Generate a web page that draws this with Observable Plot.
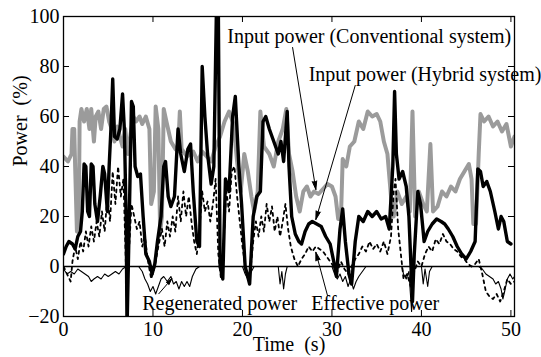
<!DOCTYPE html>
<html><head><meta charset="utf-8">
<script src="https://cdn.jsdelivr.net/npm/d3@7"></script>
<script src="https://cdn.jsdelivr.net/npm/@observablehq/plot@0.6"></script>
<style>html,body{margin:0;padding:0;background:#fff}</style>
</head><body><div id="chart"></div>
<script>
// Input power, conventional system (gray thick)
const convTime  = [0,0.5,0.9,1.0,1.2,1.3,1.5,1.7,1.8,2.0,2.3,2.6,2.9,3.1,3.4,3.6,3.9,4.2,4.5,4.8,5.1,5.4,5.7,6.0,6.3,6.6,6.9,7.2,7.5,7.8,8.1,8.5,8.8,9.2,9.6,9.8,10.1,10.3,10.6,10.8,11.0,11.2,11.5,12.0,12.5,12.8,13.0,13.2,13.8,14.5,15.0,15.5,16.0,16.5,17.0,17.5,18.0,18.5,19.0,19.4,19.8,20.2,20.6,21.0,21.3,21.7,22.0,22.4,23.0,23.5,24.0,24.5,24.9,25.2,25.6,26.0,26.4,26.8,27.2,27.6,28.0,28.5,29.0,29.5,30.0,30.4,30.7,31.0,31.2,31.6,32.0,32.5,33.0,33.5,34.0,34.5,35.0,35.4,35.8,36.2,36.6,36.9,37.3,37.8,38.3,38.7,39.0,39.3,39.7,40.2,40.6,41.0,41.3,41.8,42.3,42.8,43.3,43.8,44.3,44.8,45.3,45.6,45.8,46.1,46.4,46.6,47.0,47.5,48.0,48.5,49.0,49.5,50.0,50.4];
const convPower = [44,42,45,55,55,40,14,14,58,63,58,63,55,63,50,60,62,55,63,64,58,55,50,56,52,48,55,45,53,60,58,60,57,60,55,25,30,64,55,14,20,63,58,50,47,46,62,47,44,46,42,46,44,42,48,52,58,62,57,42,30,45,38,28,22,30,62,48,45,40,50,55,63,45,38,28,22,30,32,28,30,29,31,33,32,28,19,19,43,40,48,50,58,55,62,60,61,58,50,45,28,20,30,25,28,22,62,20,30,25,22,49,22,24,30,28,32,30,35,38,41,35,17,17,45,61,58,60,56,58,54,57,48,52];

// Input power, hybrid system (black thick)
const hybTime  = [0,0.3,0.6,1.0,1.3,1.6,1.9,2.1,2.3,2.5,2.7,2.9,3.1,3.3,3.5,3.8,4.1,4.4,4.6,4.9,5.1,5.3,5.5,5.7,6.0,6.3,6.6,6.8,7.0,7.1,7.3,7.6,7.8,8.0,8.3,8.6,8.9,9.2,9.6,9.9,10.2,10.5,10.9,11.2,11.4,11.7,12.0,12.4,12.8,13.1,13.5,13.9,14.2,14.5,14.9,15.2,15.5,15.8,16.1,16.5,16.8,17.1,17.3,17.5,17.8,18.1,18.5,18.9,19.2,19.6,19.9,20.3,20.8,21.2,21.6,22.0,22.3,22.6,23.0,23.5,24.0,24.3,24.6,25.0,25.2,25.5,25.9,26.3,26.6,27.0,27.4,27.8,28.3,28.8,29.3,29.8,30.2,30.5,30.9,31.2,31.5,31.9,32.2,32.6,33.0,33.5,34.0,34.5,35.0,35.5,36.0,36.4,36.8,37.0,37.2,37.5,37.9,38.3,38.6,39.0,39.2,39.6,39.9,40.3,40.7,41.2,41.7,42.2,42.6,43.0,43.5,44.0,44.5,45.0,45.5,46.0,46.3,46.6,46.9,47.3,47.7,48.2,48.6,48.9,49.2,49.6,50.0,50.4];
const hybPower = [5,8,10,9,7,12,14,22,41,40,22,20,41,40,25,18,28,40,37,22,40,55,75,52,51,55,69,55,20,-25,10,66,64,40,36,37,20,5,2,-3,1,10,20,40,42,28,24,28,55,45,38,47,49,30,10,8,80,60,45,33,40,105,105,0,-5,35,30,60,68,40,25,0,-7,20,28,30,58,60,55,50,45,50,42,62,40,20,13,10,9,14,17,18,17,16,12,9,2,-4,15,23,10,-3,-7,10,20,18,22,20,22,19,20,15,40,70,45,35,38,32,20,-14,5,30,25,10,14,17,19,18,17,15,12,8,5,3,6,10,39,38,32,34,30,22,15,20,18,10,9];

// Effective power (black dotted)
const effTime  = [0,0.4,0.8,1.0,1.3,1.6,1.9,2.2,2.5,2.8,3.1,3.4,3.7,4.0,4.3,4.6,4.9,5.2,5.5,5.8,6.1,6.4,6.7,6.9,7.1,7.3,7.6,7.9,8.2,8.5,8.8,9.1,9.4,9.8,10.2,10.6,11.0,11.3,11.6,11.9,12.2,12.5,12.8,13.1,13.4,13.7,14.0,14.3,14.6,14.9,15.2,15.5,15.8,16.1,16.4,16.7,17.0,17.3,17.6,17.9,18.2,18.5,18.8,19.1,19.4,19.7,20.0,20.4,20.8,21.2,21.5,21.8,22.1,22.4,22.7,23.0,23.3,23.6,23.9,24.2,24.5,24.8,25.1,25.4,25.8,26.2,26.6,27.0,27.4,27.8,28.2,28.6,29.0,29.4,29.8,30.2,30.6,31.0,31.4,31.8,32.2,32.6,33.0,33.4,33.8,34.2,34.6,35.0,35.4,35.8,36.2,36.6,36.9,37.1,37.4,37.7,38.0,38.4,38.8,39.2,39.6,40.0,40.4,40.8,41.2,41.6,42.0,42.4,42.8,43.2,43.6,44.0,44.4,44.8,45.2,45.6,46.0,46.4,46.8,47.2,47.6,48.0,48.4,48.8,49.2,49.6,50.0,50.4];
const effPower = [0,-3,-6,2,8,3,10,6,14,8,16,10,18,12,22,14,28,18,38,25,40,28,35,10,-15,5,25,20,15,18,8,12,3,-5,0,8,15,8,18,12,20,14,28,18,30,20,28,18,10,5,15,30,22,26,18,25,35,5,-5,10,30,22,38,40,28,18,8,-2,-5,10,18,12,20,14,25,18,24,14,20,12,18,25,15,8,3,0,3,5,8,6,8,7,6,4,2,0,-2,2,-1,-3,0,3,5,8,6,10,7,9,6,10,5,12,30,35,15,5,-5,-3,-8,-2,2,0,5,8,6,11,9,13,10,9,7,6,4,3,1,0,1,3,-3,-10,-12,-13,-11,-14,-10,-5,-7,-6];

// Regenerated power (black thin)
const regTime  = [0,0.4,0.8,1.2,1.6,2.0,2.4,2.8,3.1,3.4,3.8,4.2,4.6,5.0,5.4,5.8,6.2,6.6,7.0,8.4,8.8,9.1,9.4,9.7,10.0,10.3,10.6,10.9,11.2,11.6,12.0,12.3,12.6,12.9,13.2,13.5,13.8,14.1,14.4,14.8,15.2,20.0,20.3,20.6,21.0,21.3,24.0,24.2,24.4,24.6,24.8,25.0,30.0,30.3,30.6,30.9,31.2,31.5,31.8,32.1,32.4,32.7,33.0,33.4,33.8,37.8,38.0,38.3,38.6,38.9,39.1,39.4,40.0,40.2,40.4,40.7,40.9,41.2,46.4,46.8,47.2,47.6,48.0,48.3,48.6,48.9,49.1,49.3,49.6,49.9,50.2,50.4];
const regPower = [-1,-3,-2,-3,-1,-2,-3,-4,-6,-5,-4,-5,-3,-4,-3,-2,-3,-1,0,0,-2,-5,-7,-10,-8,-11,-8,-5,-4,-6,-4,-7,-6,-9,-6,-8,-6,-8,-4,-1,0,0,-3,-5,-2,0,0,-7,-2,-9,-3,0,0,-3,-5,-3,-6,-4,-8,-5,-9,-6,-4,-2,0,0,-3,-5,-2,-18,-2,0,0,-7,-1,-8,-2,0,0,-1,-3,-4,-5,-7,-6,-9,-13,-10,-5,-3,-5,-4];

// Ticks
const xTicks = [0,10,20,30,40,50];
const yTicks = [-20,0,20,40,60,80,100];

// Annotations
const annoText = ["Input power (Conventional system)", "Input power (Hybrid system)", "Regenerated power", "Effective power"];
const annoX = [18.3, 27.4, 8.8, 27.7];
const annoY = [89.6, 74.2, -17.4, -17.4];
const arrowX1 = [25.6, 32.6, 10.65, 29.5];
const arrowY1 = [87.6, 72.4, -10.9, -11.6];
const arrowX2 = [28.2, 28.2, 12.1, 28.2];
const arrowY2 = [30.8, 18.8, -4.9, 5.7];

const toRows = (t, p) => t.map((x, i) => ({t: x, p: p[i]}));
const conv = toRows(convTime, convPower);
const hyb = toRows(hybTime, hybPower);
const eff = toRows(effTime, effPower);
const reg = toRows(regTime, regPower);
const annos = annoText.map((s, i) => ({s, x: annoX[i], y: annoY[i]}));
const arrows = arrowX1.map((x, i) => ({x1: x, y1: arrowY1[i], x2: arrowX2[i], y2: arrowY2[i]}));

const W = 541, H = 357, mL = 63, mR = 27, mT = 16, mB = 41;
const iW = W - mL - mR, iH = H - mT - mB, tl = 6;

const chart = Plot.plot({
  width: W, height: H,
  marginLeft: mL, marginRight: mR, marginTop: mT, marginBottom: mB,
  x: {domain: [0, 50.4]},
  y: {domain: [-20, 100]},
  style: {fontFamily: "Liberation Serif", fontSize: "20px", color: "black", background: "white", overflow: "visible"},
  marks: [
    Plot.line(conv, {x: "t", y: "p", stroke: "#9b9b9b", strokeWidth: 4, clip: true}),
    Plot.line(hyb, {x: "t", y: "p", stroke: "black", strokeWidth: 3.4, clip: true}),
    Plot.line(eff, {x: "t", y: "p", stroke: "black", strokeWidth: 1.8, strokeDasharray: "3,4", clip: true}),
    Plot.line(reg, {x: "t", y: "p", stroke: "black", strokeWidth: 1.1, clip: true}),
    Plot.ruleY([0], {stroke: "black", strokeWidth: 1.3}),
    Plot.frame({stroke: "black", strokeWidth: 1.3}),
    Plot.tickX(xTicks, {x: d => d, insetTop: iH - tl, stroke: "black", strokeWidth: 1}),
    Plot.tickX(xTicks, {x: d => d, insetBottom: iH - tl, stroke: "black", strokeWidth: 1}),
    Plot.tickY(yTicks, {y: d => d, insetRight: iW - tl, stroke: "black", strokeWidth: 1}),
    Plot.tickY(yTicks, {y: d => d, insetLeft: iW - tl, stroke: "black", strokeWidth: 1}),
    Plot.axisX(xTicks, {anchor: "bottom", tickSize: 0, tickPadding: 5, label: null, tickFormat: d => String(d)}),
    Plot.axisY(yTicks, {anchor: "left", tickSize: 0, tickPadding: 4, label: null, tickFormat: d => d < 0 ? "\u2212" + (-d) : String(d)}),
    Plot.text(["Time\u00a0\u00a0(s)"], {frameAnchor: "bottom", lineAnchor: "bottom", dy: 34, text: d => d, fontSize: 20}),
    Plot.text(["Power\u00a0\u00a0(%)"], {frameAnchor: "left", lineAnchor: "bottom", rotate: -90, dx: -37, text: d => d, fontSize: 20}),
    Plot.arrow(arrows, {x1: "x1", y1: "y1", x2: "x2", y2: "y2", stroke: "black", fill: "black", strokeWidth: 1, headLength: 13, headAngle: 30}),
    Plot.text(annos, {x: "x", y: "y", text: "s", textAnchor: "start", lineAnchor: "bottom", fontSize: 20})
  ]
});
document.getElementById("chart").appendChild(chart);
</script>
</body></html>
